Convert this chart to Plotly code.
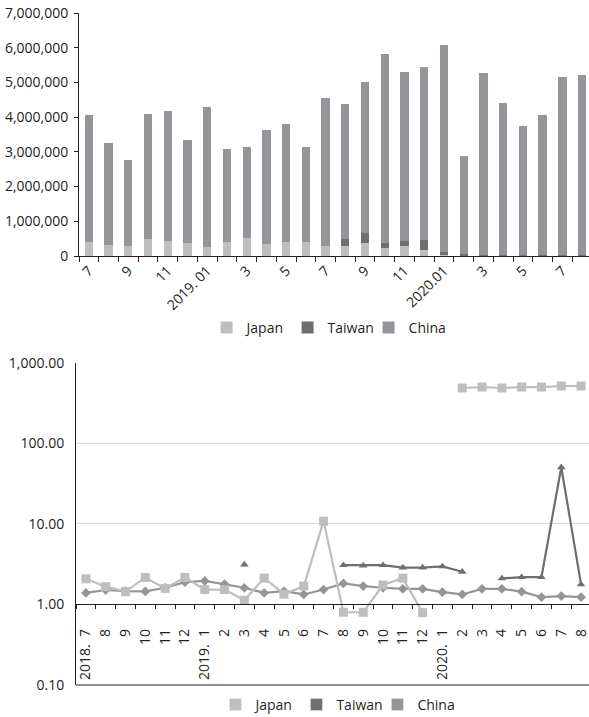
import plotly.graph_objects as go

# Monthly categories, July 2018 to August 2020
months = [
    "2018.07", "2018.08", "2018.09", "2018.10", "2018.11", "2018.12",
    "2019.01", "2019.02", "2019.03", "2019.04", "2019.05", "2019.06",
    "2019.07", "2019.08", "2019.09", "2019.10", "2019.11", "2019.12",
    "2020.01", "2020.02", "2020.03", "2020.04", "2020.05", "2020.06",
    "2020.07", "2020.08",
]
bar_tick_labels = [
    "7", "", "9", "", "11", "", "2019. 01", "", "3", "", "5", "",
    "7", "", "9", "", "11", "", "2020.01", "", "3", "", "5", "", "7", "",
]
line_tick_labels = [
    "2018.\u00a0 7", "8", "9", "10", "11", "12",
    "2019.\u00a0 1", "2", "3", "4", "5", "6", "7", "8", "9", "10", "11", "12",
    "2020.\u00a0 1", "2", "3", "4", "5", "6", "7", "8",
]

# Monthly volumes (stacked bars)
japan_volume = [
    410000, 320000, 290000, 500000, 440000, 380000, 270000, 400000, 510000,
    350000, 410000, 400000, 300000, 290000, 380000, 240000, 280000, 170000,
    20000, 5000, 3000, 2000, 3000, 3000, 3000, 3000,
]
taiwan_volume = [
    0, 0, 0, 0, 0, 0, 0, 0, 0, 0, 0, 0, 0,
    200000, 270000, 140000, 160000, 300000, 100000, 40000, 20000, 20000,
    40000, 20000, 20000, 40000,
]
china_volume = [
    3650000, 2930000, 2480000, 3590000, 3740000, 2960000, 4020000, 2670000,
    2620000, 3280000, 3380000, 2750000, 4260000, 3900000, 4360000, 5450000,
    4860000, 4980000, 5960000, 2835000, 5255000, 4385000, 3705000, 4035000,
    5125000, 5175000,
]

# Monthly ratios (log-scale lines); None marks months without a value
japan_ratio = [
    2.08, 1.66, 1.44, 2.16, 1.58, 2.16, 1.53, 1.53, 1.13, 2.12, 1.34, 1.69,
    10.8, 0.80, 0.80, 1.74, 2.12, 0.79, None, 485, 499, 485, 499, 499, 514, 514,
]
taiwan_ratio = [
    None, None, None, None, None, None, None, None, 3.13, None, None, None,
    None, 3.07, 3.04, 3.07, 2.87, 2.87, 2.96, 2.54, None, 2.10, 2.18, 2.18,
    50.4, 1.77,
]
china_ratio = [
    1.39, 1.51, 1.46, 1.45, 1.61, 1.89, 1.96, 1.79, 1.61, 1.39, 1.46, 1.33,
    1.53, 1.82, 1.69, 1.61, 1.56, 1.56, 1.42, 1.33, 1.56, 1.56, 1.44, 1.23,
    1.27, 1.23,
]

C_JAPAN = "#BCBEC0"
C_TAIWAN = "#6D6E71"
C_CHINA = "#939598"
INK = "#231F20"
FONT = "Open Sans"

W, H = 589, 717
fig = go.Figure()

# ---- stacked bars ----
for name, vals, col in [("Japan", japan_volume, C_JAPAN),
                        ("Taiwan", taiwan_volume, C_TAIWAN),
                        ("China", china_volume, C_CHINA)]:
    fig.add_trace(go.Bar(
        x=months, y=vals, name=name, marker=dict(color=col, line=dict(width=0)),
        xaxis="x", yaxis="y", legend="legend", showlegend=True,
    ))

# ---- log-scale lines ----
for name, vals, col, sym, size in [("China", china_ratio, C_CHINA, "diamond", 7.5),
                                   ("Taiwan", taiwan_ratio, C_TAIWAN, "triangle-up", 7.5),
                                   ("Japan", japan_ratio, C_JAPAN, "square", 9)]:
    fig.add_trace(go.Scatter(
        x=months, y=vals, name=name, mode="lines+markers",
        line=dict(color=col, width=2.2),
        marker=dict(symbol=sym, size=size, color=col),
        xaxis="x2", yaxis="y2", showlegend=False,
    ))

# legend entries for the line panel (square swatches)
for name, col in [("Japan", C_JAPAN), ("Taiwan", C_TAIWAN), ("China", C_CHINA)]:
    fig.add_trace(go.Bar(
        x=[None], y=[None], name=name, marker=dict(color=col),
        xaxis="x2", yaxis="y2", legend="legend2", showlegend=True,
    ))

top_dom = [1 - 256 / H, 1 - 13 / H]
bot_dom = [1 - 685 / H, 1 - 362.7 / H]
x_axis_pos = bot_dom[0] + 0.25 * (bot_dom[1] - bot_dom[0])

legend_style = dict(
    orientation="h", xanchor="center", yanchor="middle",
    xref="container", yref="container",
    font=dict(size=14, color=INK), itemwidth=30, traceorder="normal",
    entrywidth=36, entrywidthmode="pixels",
    bgcolor="rgba(0,0,0,0)",
)

fig.update_layout(
    width=W, height=H,
    margin=dict(l=0, r=0, t=0, b=0, autoexpand=False),
    paper_bgcolor="white", plot_bgcolor="white",
    font=dict(family=FONT, size=14, color=INK),
    barmode="stack", bargap=0.58,
    showlegend=True,
    xaxis=dict(
        domain=[79 / W, 1], range=[-0.5, 25.35], type="category",
        tickmode="array", tickvals=months, ticktext=bar_tick_labels,
        tickangle=-45, tickson="boundaries",
        ticks="outside", ticklen=5, tickcolor=INK, tickwidth=1,
        showline=True, linecolor=INK, linewidth=1, showgrid=False,
        anchor="y", automargin=False,
    ),
    yaxis=dict(
        domain=top_dom, range=[0, 7000000],
        tickvals=[0, 1000000, 2000000, 3000000, 4000000, 5000000, 6000000, 7000000],
        tickformat=",d", ticks="outside", ticklen=4, tickcolor=INK,
        ticklabelstandoff=3,
        showline=True, linecolor=INK, linewidth=1, showgrid=False,
        zeroline=False, anchor="x", automargin=False,
    ),
    xaxis2=dict(
        domain=[76 / W, 1], range=[-0.5, 25.4], type="category",
        tickmode="array", tickvals=months, ticktext=line_tick_labels,
        tickangle=-90, tickson="boundaries", ticklabelstandoff=18,
        ticks="outside", ticklen=4, tickcolor=INK, tickwidth=1,
        showline=True, linecolor=INK, linewidth=1, showgrid=False,
        anchor="free", position=x_axis_pos, automargin=False,
    ),
    yaxis2=dict(
        domain=bot_dom, type="log", range=[-1, 3],
        tickvals=[0.1, 1, 10, 100, 1000],
        ticktext=["0.10", "1.00", "10.00", "100.00", "1,000.00"],
        ticks="", ticklabelstandoff=8,
        showline=True, linecolor=INK, linewidth=1,
        showgrid=True, gridcolor="#D9D9D9", gridwidth=1,
        zeroline=False, anchor="x2", automargin=False,
    ),
    legend=dict(x=0.557, y=1 - 328 / H, **legend_style),
    legend2=dict(x=0.572, y=1 - 705 / H, **legend_style),
    shapes=[dict(
        type="line", xref="x2 domain", yref="y2 domain",
        x0=0, x1=1, y0=0, y1=0, line=dict(color=INK, width=1),
    )],
)

fig.write_html("out.html")
